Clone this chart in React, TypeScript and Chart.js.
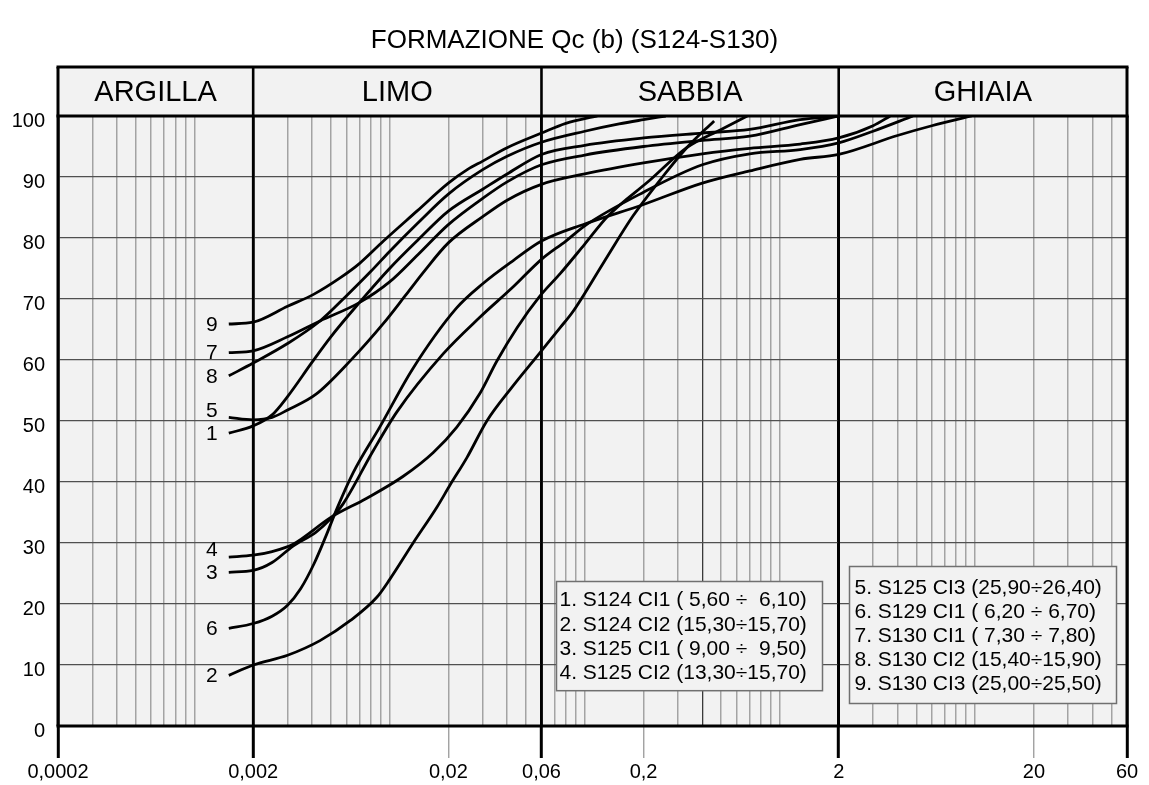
import React, { useEffect, useRef } from 'react';
import { Chart, registerables } from 'chart.js';

Chart.register(...registerables);

const FONT = '"Liberation Sans", Arial, Helvetica, sans-serif';
const W = 1149;
const H = 785;
const HEADER_H = 49;

const TITLE = 'FORMAZIONE Qc (b) (S124-S130)';
const zoneNames = ['ARGILLA', 'LIMO', 'SABBIA', 'GHIAIA'];
const zoneBounds = [0.0002, 0.002, 0.06, 2, 60];
const xLabelValues = [0.0002, 0.002, 0.02, 0.06, 0.2, 2, 20, 60];
const xLabelTexts = ['0,0002', '0,002', '0,02', '0,06', '0,2', '2', '20', '60'];
const darkGridValues = [0.4];
const yMin = 0;
const yMax = 100;
const yStep = 10;

const curveNames = ['1', '2', '3', '4', '5', '6', '7', '8', '9'];

const d1 = [0.0015, 0.002, 0.0025, 0.003, 0.004, 0.005, 0.007, 0.01, 0.014, 0.02, 0.03, 0.04, 0.06, 0.1, 0.2, 0.4, 0.7, 1.27, 2];
const p1 = [48, 49.2, 51, 54, 59.6, 63.8, 69.4, 75, 79.7, 84.4, 88, 90.5, 93.7, 95.2, 96.4, 97.2, 97.8, 99.4, 100];

const d2 = [0.0015, 0.002, 0.003, 0.0044, 0.0063, 0.0086, 0.01, 0.0132, 0.0175, 0.0204, 0.0249, 0.0315, 0.0423, 0.059, 0.0748, 0.0872, 0.125, 0.1765, 0.25, 0.333, 0.46];
const p2 = [8.3, 10, 11.6, 14, 17.3, 21.1, 24, 30, 35.9, 39.5, 44, 50, 55.5, 61.2, 65.3, 68, 76, 83.6, 90, 94.8, 99.2];

const d3 = [0.0015, 0.002, 0.0025, 0.0032, 0.0042, 0.005, 0.0058, 0.0082, 0.0109, 0.0188, 0.029, 0.043, 0.06, 0.08, 0.1, 0.2, 0.4, 0.7, 1.27, 2, 3, 4.8];
const p3 = [25.2, 25.5, 26.8, 29.5, 31.8, 34, 36.5, 45, 51.5, 61, 67, 72, 76.5, 79.5, 82, 87.5, 92, 93.8, 94.5, 95.6, 97.5, 100];

const d4 = [0.0015, 0.002, 0.0025, 0.0032, 0.005, 0.0076, 0.0117, 0.0167, 0.0221, 0.029, 0.0354, 0.045, 0.059, 0.075, 0.1, 0.1315, 0.216, 0.333, 0.5, 0.68];
const p4 = [27.7, 28, 28.6, 29.8, 34.2, 37.3, 40.9, 44.8, 49, 54.5, 59.8, 65.3, 70.5, 74.2, 79, 83.6, 89.5, 94.8, 97.8, 100];

const d5 = [0.0015, 0.002, 0.0025, 0.003, 0.0042, 0.0063, 0.0093, 0.012, 0.015, 0.02, 0.03, 0.04, 0.06, 0.1, 0.2, 0.4, 0.7, 1.27, 2, 3, 3.67];
const p5 = [50.6, 50.2, 50.6, 51.8, 54.4, 59.9, 66, 70.5, 74.5, 79.2, 83.5, 86.2, 88.8, 90.5, 92.3, 93.8, 94.7, 95.4, 96.4, 98.4, 100];

const d6 = [0.0015, 0.002, 0.0025, 0.003, 0.0035, 0.0041, 0.0047, 0.0054, 0.0065, 0.0089, 0.0131, 0.022, 0.03, 0.043, 0.06, 0.1, 0.2, 0.4, 0.7, 1.27, 2, 4, 6, 9.6];
const p6 = [16, 16.8, 18, 19.8, 22.5, 26.6, 31, 35.8, 41.5, 49, 58.5, 68.5, 72.5, 76.3, 79.5, 82.3, 85.5, 89, 91, 92.9, 93.7, 96.8, 98.4, 100];

const d7 = [0.0015, 0.002, 0.003, 0.0044, 0.007, 0.01, 0.014, 0.02, 0.03, 0.04, 0.06, 0.1, 0.2, 0.4, 0.7, 1.27, 2];
const p7 = [61.2, 61.5, 63.8, 66.4, 69.4, 72.8, 77.3, 82.2, 86.5, 89.2, 92, 93.6, 95, 96, 96.7, 98.6, 100];

const d8 = [0.0015, 0.002, 0.003, 0.0044, 0.006, 0.008, 0.01, 0.014, 0.02, 0.03, 0.04, 0.06, 0.1, 0.15, 0.2, 0.26];
const p8 = [57.4, 59.5, 62.7, 66.4, 70.5, 74.5, 77.8, 82.5, 87.2, 91.2, 93.4, 95.7, 97.5, 98.7, 99.4, 100];

const d9 = [0.0015, 0.002, 0.003, 0.0041, 0.0056, 0.007, 0.0093, 0.0138, 0.02, 0.025, 0.03, 0.04, 0.06, 0.08, 0.116];
const p9 = [65.9, 66.2, 68.8, 70.8, 73.5, 75.8, 79.5, 84.4, 89, 91.2, 92.6, 94.8, 97.2, 98.8, 100];

const curveD = [d1, d2, d3, d4, d5, d6, d7, d8, d9];
const curveP = [p1, p2, p3, p4, p5, p6, p7, p8, p9];

const legendLeft = [
  '1. S124 CI1 ( 5,60 \u00F7  6,10)',
  '2. S124 CI2 (15,30\u00F715,70)',
  '3. S125 CI1 ( 9,00 \u00F7  9,50)',
  '4. S125 CI2 (13,30\u00F715,70)',
];
const legendRight = [
  '5. S125 CI3 (25,90\u00F726,40)',
  '6. S129 CI1 ( 6,20 \u00F7 6,70)',
  '7. S130 CI1 ( 7,30 \u00F7 7,80)',
  '8. S130 CI2 (15,40\u00F715,90)',
  '9. S130 CI3 (25,00\u00F725,50)',
];

// grid positions of a log-cycle paper: k * 10^n
const gridValues: number[] = [];
for (let e = -4; e <= 1; e++) {
  for (let k = 1; k <= 9; k++) {
    const v = Number((k * Math.pow(10, e)).toPrecision(6));
    if (v >= 0.0002 * 0.999999 && v <= 60 * 1.000001) gridValues.push(v);
  }
}

const near = (a: number, b: number) => Math.abs(a - b) <= Math.abs(b) * 1e-6;
const inList = (v: number, list: number[]) => list.some((b) => near(v, b));

const decor = {
  id: 'decor',
  beforeDraw(chart: any) {
    const { ctx, chartArea: a } = chart;
    ctx.save();
    ctx.fillStyle = '#ffffff';
    ctx.fillRect(0, 0, chart.width, chart.height);
    ctx.fillStyle = '#f2f2f2';
    ctx.fillRect(a.left, a.top - HEADER_H, a.right - a.left, a.bottom - a.top + HEADER_H);
    ctx.restore();
  },
  afterDatasetsDraw(chart: any) {
    const { ctx, chartArea: a, scales } = chart;
    const xs = scales.x;
    const ys = scales.y;
    const top = a.top - HEADER_H;
    ctx.save();

    // zone boundaries through header and plot
    ctx.strokeStyle = '#000';
    zoneBounds.forEach((b, i) => {
      const px = xs.getPixelForValue(b);
      ctx.lineWidth = i === 0 || i === zoneBounds.length - 1 ? 3 : 2.6;
      ctx.beginPath();
      ctx.moveTo(px, top);
      ctx.lineTo(px, a.bottom);
      ctx.stroke();
    });
    // header top, header bottom (100 %), bottom (0 %)
    ctx.lineWidth = 3;
    [top, ys.getPixelForValue(yMax), ys.getPixelForValue(yMin)].forEach((py) => {
      ctx.beginPath();
      ctx.moveTo(a.left - 1.5, py);
      ctx.lineTo(a.right + 1.5, py);
      ctx.stroke();
    });

    // zone names
    ctx.fillStyle = '#000';
    ctx.font = `29px ${FONT}`;
    ctx.textAlign = 'center';
    ctx.textBaseline = 'middle';
    zoneNames.forEach((n, i) => {
      const x0 = xs.getPixelForValue(zoneBounds[i]);
      const x1 = xs.getPixelForValue(zoneBounds[i + 1]);
      ctx.fillText(n, (x0 + x1) / 2, top + HEADER_H / 2 + 1);
    });

    // title
    ctx.font = `26px ${FONT}`;
    ctx.fillText(TITLE, chart.width / 2, 41);

    // curve labels at the start of each curve
    const labels = curveNames.map((n, i) => ({
      n,
      x: xs.getPixelForValue(curveD[i][0]) - 11,
      y: ys.getPixelForValue(curveP[i][0]),
    }));
    labels.sort((p, q) => p.y - q.y);
    const gap = 23;
    for (let i = labels.length - 2; i >= 0; i--) {
      if (labels[i + 1].y - labels[i].y < gap) labels[i].y = labels[i + 1].y - gap;
    }
    ctx.font = `21px ${FONT}`;
    ctx.textAlign = 'right';
    labels.forEach((l) => ctx.fillText(l.n, l.x, l.y + 1));

    // legend boxes
    const drawBox = (lines: string[], bx: number, by: number, bw: number, firstY: number, step: number, padX: number) => {
      const bh = firstY * 2 + step * (lines.length - 1);
      ctx.fillStyle = '#f2f2f2';
      ctx.fillRect(bx, by, bw, bh);
      ctx.strokeStyle = '#707070';
      ctx.lineWidth = 1.5;
      ctx.strokeRect(bx, by, bw, bh);
      ctx.fillStyle = '#000';
      ctx.font = `21px ${FONT}`;
      ctx.textAlign = 'left';
      ctx.textBaseline = 'middle';
      lines.forEach((t, i) => ctx.fillText(t, bx + padX, by + firstY + i * step + 1));
    };
    drawBox(legendLeft, 556.5, 581.5, 266, 18, 24.4, 3);
    drawBox(legendRight, 849.5, 566.5, 267, 20.5, 24, 5);

    ctx.restore();
  },
};

export default function App() {
  const ref = useRef<HTMLCanvasElement | null>(null);

  useEffect(() => {
    if (!ref.current) return;
    Chart.defaults.font.family = FONT;
    const datasets = curveNames.map((n, i) => ({
      label: n,
      data: curveD[i].map((x, j) => ({ x, y: curveP[i][j] })),
      borderColor: '#000',
      borderWidth: 2.8,
      pointRadius: 0,
      fill: false,
      cubicInterpolationMode: 'monotone' as const,
    }));

    const gridColor = (c: any) => {
      const v = c.tick ? c.tick.value : 0;
      if (inList(v, zoneBounds)) return '#000';
      if (inList(v, darkGridValues)) return '#3a3a3a';
      return '#a3a3a3';
    };
    const gridWidth = (c: any) => {
      const v = c.tick ? c.tick.value : 0;
      if (inList(v, zoneBounds)) return 2.6;
      if (inList(v, darkGridValues)) return 1.3;
      return 1.5;
    };
    const tickColor = (c: any) => {
      const v = c.tick ? c.tick.value : 0;
      if (!inList(v, xLabelValues)) return 'rgba(0,0,0,0)';
      return inList(v, zoneBounds) ? '#000' : '#999';
    };
    const tickWidth = (c: any) => {
      const v = c.tick ? c.tick.value : 0;
      return inList(v, zoneBounds) ? 3 : 1.3;
    };

    const chart = new Chart(ref.current, {
      type: 'line',
      data: { datasets },
      options: {
        animation: false,
        responsive: false,
        devicePixelRatio: 1,
        layout: { padding: { left: 0, right: 22, top: 116, bottom: 0 } },
        plugins: {
          legend: { display: false },
          title: { display: false },
          tooltip: { enabled: false },
        },
        scales: {
          x: {
            type: 'logarithmic',
            min: 0.0002,
            max: 60,
            afterBuildTicks: (s: any) => {
              s.ticks = gridValues.map((value) => ({ value }));
            },
            afterFit: (s: any) => {
              s.height = 59;
            },
            ticks: {
              autoSkip: false,
              maxRotation: 0,
              minRotation: 0,
              padding: 2,
              color: '#000',
              font: { size: 20, family: FONT },
              callback: (v: any) => {
                const idx = xLabelValues.findIndex((b) => near(Number(v), b));
                return idx >= 0 ? xLabelTexts[idx] : '';
              },
            },
            grid: {
              color: gridColor,
              lineWidth: gridWidth,
              tickColor,
              tickWidth,
              tickLength: 32,
              drawTicks: true,
            },
            border: { display: false },
          },
          y: {
            type: 'linear',
            min: yMin,
            max: yMax,
            afterFit: (s: any) => {
              s.width = 58;
            },
            ticks: {
              stepSize: yStep,
              padding: 13,
              labelOffset: 5,
              color: '#000',
              font: { size: 20, family: FONT },
            },
            grid: { color: '#505050', lineWidth: 1.3, drawTicks: false },
            border: { display: false },
          },
        },
      } as any,
      plugins: [decor],
    });
    return () => chart.destroy();
  }, []);

  return (
    <div style={{ position: 'absolute', left: 0, top: 0, width: W, height: H, background: '#fff' }}>
      <canvas ref={ref} width={W} height={H} style={{ display: 'block', width: W, height: H }} />
    </div>
  );
}
